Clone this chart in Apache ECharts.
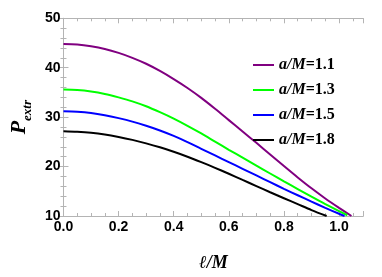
<!DOCTYPE html>
<html><head><meta charset="utf-8">
<script src="https://cdn.jsdelivr.net/npm/echarts@6/dist/echarts.min.js"></script>
<style>html,body{margin:0;padding:0;background:#fff}#c{width:382px;height:277px}</style>
</head><body><div id="c"></div>
<script>
var seriesNames = ['a/M=1.1', 'a/M=1.3', 'a/M=1.5', 'a/M=1.8'];
var seriesColors = ['#800080', '#00ff00', '#0000ff', '#000000'];
var xTickLabels = ['0.0', '0.2', '0.4', '0.6', '0.8', '1.0'];
var yTickLabels = ['10', '20', '30', '40', '50'];

var ell = [0, 0.05, 0.1, 0.15, 0.2, 0.25, 0.3, 0.35, 0.4, 0.45, 0.5, 0.55, 0.6, 0.65, 0.7, 0.75, 0.8, 0.85, 0.9, 0.95, 1.0];
var ellEnd = [1.045, 1.03, 1.02, 0.955];
var P_11 = [44.8, 44.7, 44.35, 43.8, 43.0, 42.0, 40.8, 39.35, 37.7, 35.9, 33.9, 31.7, 29.4, 27.1, 24.8, 22.45, 20.1, 17.8, 15.6, 13.55, 11.65, 10.0];
var P_13 = [35.6, 35.5, 35.2, 34.7, 34.0, 33.2, 32.2, 31.0, 29.7, 28.25, 26.7, 25.05, 23.4, 21.8, 20.2, 18.6, 17.0, 15.45, 13.9, 12.4, 11.0, 10.15];
var P_15 = [31.2, 31.1, 30.85, 30.4, 29.8, 29.1, 28.25, 27.3, 26.2, 24.95, 23.6, 22.25, 20.9, 19.55, 18.2, 16.85, 15.5, 14.2, 12.9, 11.65, 10.45, 10.0];
var P_18 = [27.15, 27.05, 26.85, 26.5, 26.0, 25.4, 24.7, 23.9, 23.0, 22.0, 20.9, 19.75, 18.55, 17.3, 16.05, 14.8, 13.6, 12.4, 11.2, 10.0];

var ys = [P_11, P_13, P_15, P_18];

var frameColor = '#b4b4b4';
function seriesData(k) {
  var y = ys[k], out = [];
  for (var i = 0; i < y.length; i++) {
    var x = (i < y.length - 1) ? ell[i] : ellEnd[k];
    out.push([x, y[i]]);
  }
  return out;
}

var chart = echarts.init(document.getElementById('c'), null, {renderer: 'canvas'});
var tickCommon = {show: true, inside: true, length: 5, lineStyle: {color: frameColor, width: 1}};
var minorCommon = {show: true, length: 3, lineStyle: {color: frameColor, width: 1}};
var labelFont = {fontFamily: 'Liberation Sans, Arial', fontWeight: 'bold', fontSize: 14, color: '#000'};

chart.setOption({
  animation: false,
  grid: {left: 45.7, right: 18.7, top: 18.3, bottom: 47.7, containLabel: false},
  legend: {
    orient: 'vertical', left: 248, top: 52, itemGap: 9,
    icon: 'rect', itemWidth: 21, itemHeight: 2,
    data: seriesNames,
    formatter: function (n) { var p = n.split('='); return '{i|a/M}{r|=' + p[1] + '}'; },
    textStyle: {
      rich: {
        i: {fontFamily: 'Liberation Serif, Times New Roman', fontStyle: 'italic', fontWeight: 'bold', fontSize: 16, color: '#000'},
        r: {fontFamily: 'Liberation Serif, Times New Roman', fontWeight: 'bold', fontSize: 16, color: '#000'}
      }
    }
  },
  xAxis: [{
    type: 'value', min: 0, max: 1.088, interval: 0.2,
    name: '{t|ℓ/M}', nameLocation: 'middle', nameGap: 38,
    nameTextStyle: {rich: {t: {fontFamily: 'Liberation Serif, Times New Roman', fontStyle: 'italic', fontWeight: 'bold', fontSize: 18, color: '#000'}}},
    axisLine: {show: true, lineStyle: {color: frameColor, width: 1}},
    axisTick: tickCommon, minorTick: Object.assign({splitNumber: 4}, minorCommon),
    splitLine: {show: false},
    axisLabel: Object.assign({margin: 4, showMaxLabel: false,
      formatter: function (v) { var i = Math.round(v / 0.2); return Math.abs(v - i * 0.2) < 1e-6 ? xTickLabels[i] : ''; }}, labelFont)
  }, {
    type: 'value', min: 0, max: 1.088, interval: 0.2, position: 'top',
    axisLine: {show: true, lineStyle: {color: frameColor, width: 1}},
    axisTick: tickCommon, minorTick: Object.assign({splitNumber: 4}, minorCommon),
    splitLine: {show: false}, axisLabel: {show: false}
  }],
  yAxis: [{
    type: 'value', min: 10, max: 50, interval: 10,
    name: '{p|P}{s|extr}', nameLocation: 'middle', nameGap: 28, nameRotate: 90,
    nameTextStyle: {rich: {
      p: {fontFamily: 'Liberation Serif, Times New Roman', fontStyle: 'italic', fontWeight: 'bold', fontSize: 22, color: '#000', verticalAlign: 'bottom'},
      s: {fontFamily: 'Liberation Serif, Times New Roman', fontStyle: 'italic', fontWeight: 'bold', fontSize: 13, color: '#000', verticalAlign: 'bottom', padding: [0, 0, -4, 0]}
    }},
    axisLine: {show: true, lineStyle: {color: frameColor, width: 1}},
    axisTick: tickCommon, minorTick: Object.assign({splitNumber: 5}, minorCommon),
    splitLine: {show: false},
    axisLabel: Object.assign({margin: 3, formatter: function (v) { return yTickLabels[Math.round((v - 10) / 10)]; }}, labelFont)
  }, {
    type: 'value', min: 10, max: 50, interval: 10, position: 'right',
    axisLine: {show: true, lineStyle: {color: frameColor, width: 1}},
    axisTick: tickCommon, minorTick: Object.assign({splitNumber: 5}, minorCommon),
    splitLine: {show: false}, axisLabel: {show: false}
  }],
  series: seriesNames.map(function (n, k) {
    return {
      name: n, type: 'line', data: seriesData(k), smooth: 0.3,
      showSymbol: false, symbol: 'none', clip: true,
      lineStyle: {color: seriesColors[k], width: 2},
      itemStyle: {color: seriesColors[k]}
    };
  })
});
</script></body></html>
